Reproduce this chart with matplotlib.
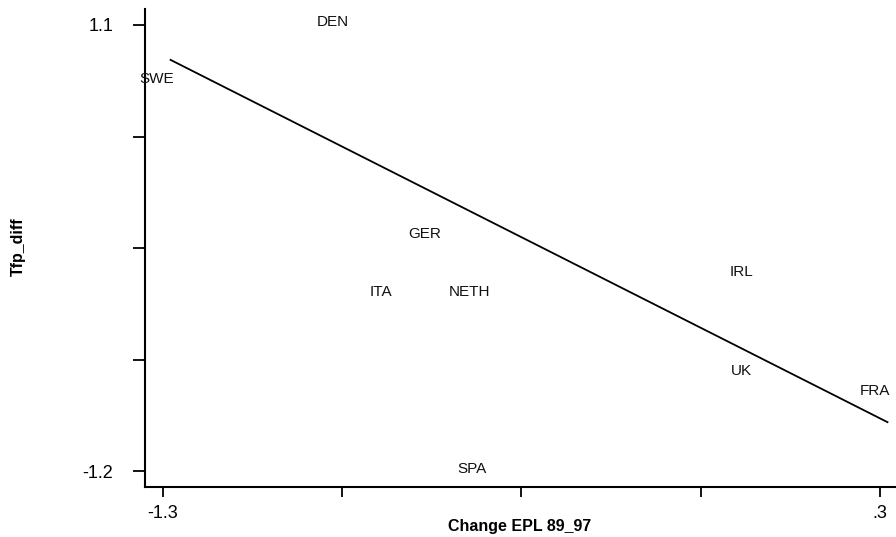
import matplotlib.pyplot as plt

plt.rcParams['font.family'] = ['Liberation Sans', 'DejaVu Sans']

# country labels and their positions
countries = ['DEN', 'SWE', 'GER', 'ITA', 'NETH', 'IRL', 'UK', 'FRA', 'SPA']
epl_change = [-0.921, -1.313, -0.715, -0.813, -0.616, -0.008, -0.010, 0.290, -0.611]
tfp_diff = [1.117, 0.823, 0.022, -0.276, -0.276, -0.175, -0.680, -0.783, -1.188]

# fitted line end points
fit_x = [-1.283, 0.317]
fit_y = [0.920, -0.946]

x_ticks = [-1.3, -0.9, -0.5, -0.1, 0.3]
x_ticklabels = ['-1.3', '', '', '', '.3']
y_ticks = [1.1, 0.525, -0.05, -0.625, -1.2]
y_ticklabels = ['1.1', '', '', '', '-1.2']

fig = plt.figure(figsize=(8.96, 5.37), dpi=100)
ax = fig.add_axes([145/896, 50/537, 1 - 145/896, 478/537])

for name, x, y in zip(countries, epl_change, tfp_diff):
    ax.text(x, y, name, ha='center', va='center', fontsize=11, color='#111111')

ax.plot(fit_x, fit_y, color='black', linewidth=1.3)

ax.set_xlim(-1.340, 0.336)
ax.set_ylim(-1.280, 1.182)

ax.set_xticks(x_ticks)
ax.set_xticklabels(x_ticklabels)
ax.set_yticks(y_ticks)
ax.set_yticklabels(y_ticklabels)

ax.spines['top'].set_visible(False)
ax.spines['right'].set_visible(False)
ax.spines['left'].set_linewidth(1.5)
ax.spines['bottom'].set_linewidth(1.5)

ax.tick_params(axis='x', direction='out', length=7, width=1.3, pad=6, labelsize=13)
ax.tick_params(axis='y', direction='out', length=9, width=1.3, pad=14, labelsize=13)

fig.text(520/896, 1 - 527/537, 'Change EPL 89_97', ha='center', va='center',
         fontsize=11.5, fontweight='bold')
fig.text(18/896, 1 - 247/537, 'Tfp_diff', ha='center', va='center',
         rotation=90, fontsize=11.5, fontweight='bold')

plt.savefig('out.png', dpi=100)
